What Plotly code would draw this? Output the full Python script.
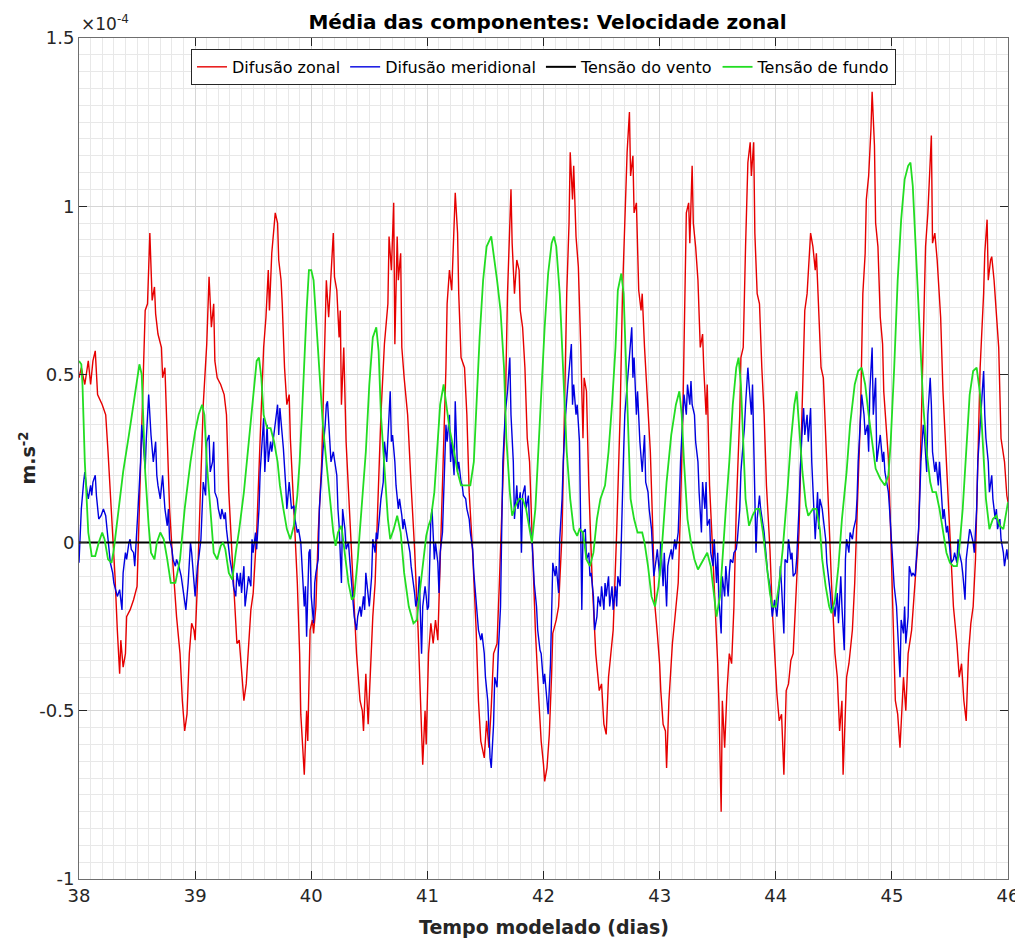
import plotly.graph_objects as go

# Values in units of 1e-4 m.s^-2 ; time in model days
difusao_zonal = [
    (38.00, 0.49), (38.02, 0.52), (38.05, 0.47), (38.08, 0.54), (38.10, 0.47), (38.12, 0.54), (38.14, 0.57),
    (38.16, 0.44), (38.20, 0.41), (38.23, 0.38), (38.25, 0.27), (38.28, 0.10), (38.31, -0.10), (38.33, -0.26),
    (38.35, -0.39), (38.36, -0.29), (38.38, -0.37), (38.40, -0.33), (38.41, -0.22), (38.44, -0.20), (38.47, -0.17),
    (38.50, -0.13), (38.51, -0.02), (38.53, 0.24), (38.55, 0.45), (38.57, 0.69), (38.59, 0.71), (38.61, 0.92),
    (38.63, 0.72), (38.65, 0.76), (38.66, 0.68), (38.68, 0.62), (38.71, 0.58), (38.72, 0.49), (38.74, 0.52),
    (38.76, 0.30), (38.78, 0.10), (38.81, -0.07), (38.84, -0.22), (38.87, -0.33), (38.89, -0.47), (38.91, -0.56),
    (38.93, -0.51), (38.95, -0.33), (38.97, -0.24), (38.99, -0.26), (39.00, -0.29), (39.02, -0.12), (39.05, 0.17),
    (39.07, 0.41), (39.10, 0.59), (39.12, 0.79), (39.14, 0.64), (39.16, 0.71), (39.17, 0.54), (39.19, 0.49),
    (39.22, 0.47), (39.25, 0.44), (39.27, 0.38), (39.29, 0.15), (39.32, -0.05), (39.34, -0.19), (39.36, -0.30),
    (39.38, -0.29), (39.40, -0.37), (39.42, -0.47), (39.44, -0.42), (39.46, -0.29), (39.48, -0.20), (39.50, -0.15),
    (39.53, 0.03), (39.56, 0.31), (39.59, 0.58), (39.61, 0.67), (39.63, 0.81), (39.64, 0.69), (39.66, 0.86),
    (39.68, 0.94), (39.69, 0.98), (39.71, 0.95), (39.72, 0.84), (39.74, 0.78), (39.75, 0.71), (39.77, 0.52),
    (39.79, 0.41), (39.81, 0.44), (39.82, 0.31), (39.85, 0.10), (39.88, -0.12), (39.90, -0.33), (39.91, -0.51),
    (39.94, -0.69), (39.96, -0.50), (39.97, -0.59), (39.99, -0.26), (40.01, -0.23), (40.02, -0.27), (40.04, -0.19),
    (40.06, 0.03), (40.09, 0.24), (40.11, 0.52), (40.13, 0.78), (40.15, 0.67), (40.17, 0.78), (40.19, 0.92),
    (40.20, 0.79), (40.22, 0.75), (40.24, 0.61), (40.25, 0.69), (40.26, 0.41), (40.28, 0.58), (40.30, 0.30),
    (40.33, 0.10), (40.36, -0.12), (40.39, -0.33), (40.42, -0.47), (40.44, -0.50), (40.45, -0.56), (40.47, -0.39),
    (40.49, -0.54), (40.51, -0.39), (40.53, -0.22), (40.55, -0.12), (40.57, 0.10), (40.60, 0.38), (40.63, 0.59),
    (40.66, 0.71), (40.67, 0.91), (40.69, 0.81), (40.71, 1.01), (40.72, 0.59), (40.74, 0.91), (40.75, 0.78),
    (40.77, 0.86), (40.78, 0.58), (40.80, 0.49), (40.83, 0.38), (40.86, 0.17), (40.89, -0.02), (40.92, -0.26),
    (40.94, -0.47), (40.96, -0.66), (40.98, -0.50), (40.99, -0.60), (41.01, -0.33), (41.03, -0.24), (41.05, -0.30),
    (41.07, -0.23), (41.09, -0.29), (41.11, -0.05), (41.14, 0.24), (41.16, 0.52), (41.17, 0.71), (41.19, 0.81),
    (41.21, 0.75), (41.22, 0.86), (41.24, 1.04), (41.26, 0.92), (41.27, 0.74), (41.29, 0.55), (41.32, 0.52),
    (41.34, 0.38), (41.36, 0.15), (41.39, -0.03), (41.42, -0.26), (41.44, -0.47), (41.46, -0.59), (41.49, -0.64),
    (41.51, -0.53), (41.53, -0.61), (41.55, -0.49), (41.57, -0.33), (41.60, -0.30), (41.62, -0.12), (41.65, 0.17),
    (41.67, 0.38), (41.69, 0.74), (41.71, 0.95), (41.72, 1.05), (41.73, 0.89), (41.75, 0.74), (41.77, 0.84),
    (41.79, 0.81), (41.80, 0.69), (41.82, 0.64), (41.84, 0.52), (41.86, 0.31), (41.88, 0.24), (41.90, 0.03),
    (41.93, -0.26), (41.96, -0.47), (41.98, -0.59), (42.00, -0.66), (42.01, -0.71), (42.03, -0.67), (42.05, -0.57),
    (42.07, -0.39), (42.08, -0.27), (42.11, -0.23), (42.13, -0.19), (42.16, 0.03), (42.18, 0.38), (42.20, 0.74),
    (42.22, 0.95), (42.23, 1.16), (42.25, 1.02), (42.26, 1.12), (42.28, 0.91), (42.30, 0.82), (42.32, 0.59),
    (42.34, 0.31), (42.35, 0.49), (42.37, 0.45), (42.39, 0.17), (42.42, -0.12), (42.45, -0.33), (42.48, -0.44),
    (42.50, -0.42), (42.52, -0.54), (42.54, -0.57), (42.56, -0.40), (42.58, -0.33), (42.60, -0.26), (42.63, 0.03),
    (42.66, 0.38), (42.68, 0.74), (42.70, 0.95), (42.72, 1.16), (42.74, 1.28), (42.75, 1.09), (42.77, 1.15),
    (42.78, 0.98), (42.80, 1.01), (42.82, 0.75), (42.84, 0.69), (42.85, 0.74), (42.87, 0.58), (42.89, 0.45),
    (42.92, 0.27), (42.94, 0.05), (42.96, -0.19), (42.98, -0.27), (43.00, -0.36), (43.01, -0.44), (43.03, -0.54),
    (43.05, -0.56), (43.06, -0.67), (43.08, -0.47), (43.11, -0.30), (43.13, -0.23), (43.16, -0.12), (43.18, 0.10),
    (43.20, 0.38), (43.22, 0.78), (43.23, 0.98), (43.25, 1.01), (43.26, 0.89), (43.28, 1.12), (43.29, 0.95),
    (43.31, 0.88), (43.33, 0.78), (43.35, 0.58), (43.37, 0.62), (43.38, 0.52), (43.40, 0.38), (43.41, 0.47),
    (43.43, 0.17), (43.46, -0.05), (43.48, -0.19), (43.50, -0.36), (43.51, -0.47), (43.53, -0.80), (43.54, -0.47),
    (43.56, -0.61), (43.58, -0.44), (43.60, -0.33), (43.62, -0.36), (43.64, -0.19), (43.66, 0.10), (43.69, 0.38),
    (43.70, 0.55), (43.72, 0.58), (43.74, 0.88), (43.76, 1.13), (43.78, 1.19), (43.79, 1.09), (43.81, 1.19),
    (43.82, 0.92), (43.84, 0.74), (43.86, 0.71), (43.88, 0.52), (43.90, 0.38), (43.92, 0.17), (43.95, -0.02),
    (43.97, -0.20), (43.99, -0.33), (44.01, -0.45), (44.03, -0.53), (44.05, -0.51), (44.07, -0.69), (44.09, -0.44),
    (44.11, -0.42), (44.13, -0.35), (44.15, -0.33), (44.17, -0.19), (44.20, 0.03), (44.22, 0.31), (44.24, 0.59),
    (44.25, 0.69), (44.27, 0.74), (44.29, 0.84), (44.30, 0.92), (44.32, 0.88), (44.34, 0.81), (44.35, 0.86),
    (44.37, 0.69), (44.39, 0.52), (44.41, 0.49), (44.43, 0.30), (44.46, 0.07), (44.48, -0.12), (44.51, -0.33),
    (44.53, -0.40), (44.55, -0.56), (44.57, -0.47), (44.58, -0.69), (44.59, -0.59), (44.61, -0.40), (44.63, -0.36),
    (44.66, -0.26), (44.68, -0.12), (44.70, 0.10), (44.73, 0.38), (44.75, 0.74), (44.77, 0.86), (44.78, 1.02),
    (44.80, 1.09), (44.82, 1.23), (44.83, 1.34), (44.85, 1.18), (44.86, 0.95), (44.88, 0.88), (44.90, 0.67),
    (44.92, 0.59), (44.93, 0.45), (44.95, 0.35), (44.97, 0.25), (44.99, 0.03), (45.01, -0.26), (45.03, -0.47),
    (45.05, -0.51), (45.07, -0.61), (45.09, -0.47), (45.10, -0.40), (45.12, -0.50), (45.14, -0.33), (45.17, -0.26),
    (45.20, -0.12), (45.23, 0.03), (45.25, 0.31), (45.27, 0.59), (45.29, 0.88), (45.31, 0.98), (45.33, 1.12),
    (45.34, 1.21), (45.35, 0.89), (45.37, 0.92), (45.39, 0.84), (45.40, 0.78), (45.42, 0.67), (45.44, 0.45),
    (45.46, 0.31), (45.48, 0.14), (45.51, -0.05), (45.53, -0.19), (45.56, -0.30), (45.58, -0.40), (45.60, -0.36),
    (45.62, -0.47), (45.64, -0.53), (45.66, -0.33), (45.68, -0.24), (45.70, -0.19), (45.72, -0.05), (45.74, 0.24),
    (45.76, 0.52), (45.79, 0.74), (45.80, 0.86), (45.82, 0.96), (45.83, 0.78), (45.85, 0.84), (45.86, 0.85),
    (45.88, 0.78), (45.90, 0.67), (45.92, 0.58), (45.94, 0.31), (45.97, 0.24), (45.99, 0.14), (46.00, 0.12),
]

difusao_meridional = [
    (38.00, -0.06), (38.01, 0.03), (38.02, 0.10), (38.04, 0.18), (38.05, 0.21), (38.07, 0.15), (38.08, 0.13),
    (38.10, 0.17), (38.11, 0.14), (38.12, 0.18), (38.14, 0.20), (38.15, 0.14), (38.17, 0.07), (38.19, 0.08),
    (38.21, 0.10), (38.23, 0.08), (38.25, 0.01), (38.27, -0.06), (38.29, -0.09), (38.30, -0.12), (38.33, -0.16),
    (38.35, -0.14), (38.37, -0.20), (38.38, -0.09), (38.40, -0.03), (38.41, -0.05), (38.43, 0.00), (38.44, 0.01),
    (38.45, -0.02), (38.47, -0.03), (38.48, -0.07), (38.50, 0.03), (38.51, 0.11), (38.53, 0.24), (38.54, 0.35),
    (38.55, 0.31), (38.57, 0.22), (38.58, 0.31), (38.60, 0.44), (38.62, 0.32), (38.64, 0.24), (38.66, 0.30),
    (38.67, 0.20), (38.68, 0.17), (38.70, 0.13), (38.72, 0.20), (38.74, 0.10), (38.76, 0.05), (38.77, 0.10),
    (38.78, 0.01), (38.80, -0.02), (38.81, -0.05), (38.83, -0.07), (38.84, -0.05), (38.86, -0.07), (38.88, -0.10),
    (38.90, -0.15), (38.92, -0.20), (38.94, -0.12), (38.96, 0.00), (38.97, -0.03), (38.99, -0.13), (39.00, -0.16),
    (39.02, -0.07), (39.03, -0.05), (39.05, 0.01), (39.06, 0.13), (39.07, 0.18), (39.09, 0.14), (39.10, 0.30),
    (39.12, 0.32), (39.13, 0.21), (39.15, 0.24), (39.16, 0.30), (39.17, 0.15), (39.19, 0.13), (39.20, 0.10),
    (39.22, 0.07), (39.23, 0.10), (39.25, 0.07), (39.26, 0.09), (39.27, 0.04), (39.29, -0.02), (39.30, -0.05),
    (39.32, -0.09), (39.33, -0.13), (39.35, -0.16), (39.36, -0.09), (39.38, -0.13), (39.39, -0.09), (39.40, -0.15),
    (39.42, -0.07), (39.43, -0.19), (39.45, -0.13), (39.46, -0.10), (39.48, -0.13), (39.49, 0.01), (39.50, -0.03),
    (39.52, 0.03), (39.53, -0.02), (39.55, 0.10), (39.56, 0.21), (39.58, 0.30), (39.59, 0.37), (39.60, 0.21),
    (39.62, 0.35), (39.63, 0.24), (39.65, 0.30), (39.66, 0.27), (39.68, 0.32), (39.69, 0.35), (39.71, 0.41),
    (39.72, 0.32), (39.73, 0.40), (39.75, 0.32), (39.76, 0.28), (39.78, 0.17), (39.79, 0.10), (39.81, 0.18),
    (39.82, 0.13), (39.83, 0.10), (39.85, 0.11), (39.86, 0.07), (39.88, 0.03), (39.89, 0.04), (39.91, 0.00),
    (39.92, -0.06), (39.94, -0.19), (39.95, -0.13), (39.96, -0.28), (39.98, -0.03), (39.99, -0.02), (40.00, -0.16),
    (40.02, -0.24), (40.03, -0.12), (40.04, -0.09), (40.06, -0.05), (40.07, 0.10), (40.09, 0.21), (40.10, 0.27),
    (40.12, 0.35), (40.13, 0.41), (40.14, 0.42), (40.16, 0.32), (40.17, 0.24), (40.19, 0.27), (40.20, 0.25),
    (40.22, 0.20), (40.23, 0.10), (40.24, 0.05), (40.26, -0.12), (40.27, 0.10), (40.29, 0.04), (40.30, -0.02),
    (40.32, 0.00), (40.33, -0.05), (40.35, -0.12), (40.36, -0.19), (40.37, -0.22), (40.39, -0.26), (40.40, -0.22),
    (40.42, -0.19), (40.43, -0.22), (40.45, -0.16), (40.46, -0.20), (40.47, -0.09), (40.49, -0.16), (40.50, -0.19),
    (40.52, -0.10), (40.53, 0.01), (40.55, -0.03), (40.56, 0.03), (40.57, 0.01), (40.59, 0.10), (40.60, 0.13),
    (40.62, 0.18), (40.63, 0.30), (40.65, 0.24), (40.66, 0.32), (40.68, 0.45), (40.69, 0.30), (40.70, 0.32),
    (40.72, 0.24), (40.73, 0.17), (40.75, 0.10), (40.76, 0.13), (40.78, 0.08), (40.79, 0.04), (40.80, 0.07),
    (40.82, 0.03), (40.83, 0.01), (40.85, -0.03), (40.86, -0.07), (40.88, -0.12), (40.89, -0.15), (40.90, -0.19),
    (40.92, -0.16), (40.93, -0.10), (40.95, -0.33), (40.96, -0.19), (40.98, -0.13), (40.99, -0.16), (41.00, -0.20),
    (41.01, -0.19), (41.03, 0.07), (41.04, 0.10), (41.06, -0.05), (41.07, 0.00), (41.09, -0.06), (41.10, -0.15),
    (41.11, -0.03), (41.13, 0.03), (41.14, 0.14), (41.16, 0.35), (41.17, 0.30), (41.19, 0.38), (41.20, 0.24),
    (41.21, 0.30), (41.23, 0.20), (41.24, 0.42), (41.26, 0.21), (41.27, 0.24), (41.29, 0.18), (41.30, 0.17),
    (41.31, 0.14), (41.33, 0.13), (41.34, 0.10), (41.36, 0.07), (41.37, 0.03), (41.39, -0.02), (41.40, -0.09),
    (41.42, -0.17), (41.43, -0.22), (41.44, -0.26), (41.46, -0.29), (41.47, -0.27), (41.49, -0.33), (41.50, -0.40),
    (41.52, -0.47), (41.53, -0.59), (41.54, -0.64), (41.55, -0.67), (41.57, -0.54), (41.58, -0.40), (41.60, -0.43),
    (41.61, -0.33), (41.63, -0.19), (41.64, 0.03), (41.65, 0.24), (41.67, 0.38), (41.68, 0.41), (41.69, 0.45),
    (41.71, 0.55), (41.72, 0.38), (41.74, 0.24), (41.75, 0.07), (41.77, 0.17), (41.78, 0.10), (41.80, 0.15),
    (41.81, -0.03), (41.82, 0.14), (41.84, 0.17), (41.85, 0.10), (41.87, 0.14), (41.88, 0.05), (41.90, 0.01),
    (41.91, -0.05), (41.92, -0.12), (41.94, -0.19), (41.95, -0.26), (41.97, -0.32), (41.98, -0.33), (42.00, -0.42),
    (42.01, -0.39), (42.03, -0.47), (42.04, -0.51), (42.06, -0.36), (42.07, -0.19), (42.08, -0.06), (42.10, -0.10),
    (42.11, -0.07), (42.13, -0.15), (42.14, 0.01), (42.16, 0.13), (42.17, 0.24), (42.19, 0.38), (42.20, 0.44),
    (42.21, 0.47), (42.23, 0.55), (42.24, 0.59), (42.25, 0.41), (42.26, 0.47), (42.28, 0.38), (42.29, 0.41),
    (42.31, 0.30), (42.32, -0.05), (42.33, -0.20), (42.34, 0.03), (42.36, 0.04), (42.37, -0.05), (42.39, -0.03),
    (42.40, -0.10), (42.41, -0.09), (42.43, -0.16), (42.44, -0.26), (42.46, -0.22), (42.47, -0.16), (42.49, -0.19),
    (42.50, -0.13), (42.52, -0.20), (42.53, -0.12), (42.54, -0.16), (42.56, -0.10), (42.57, -0.19), (42.59, -0.13),
    (42.60, -0.20), (42.62, -0.13), (42.63, -0.19), (42.64, -0.10), (42.66, -0.13), (42.67, 0.03), (42.69, 0.27),
    (42.70, 0.38), (42.72, 0.47), (42.73, 0.49), (42.75, 0.58), (42.76, 0.64), (42.77, 0.49), (42.78, 0.55),
    (42.80, 0.38), (42.81, 0.45), (42.83, 0.30), (42.84, 0.24), (42.85, 0.21), (42.87, 0.32), (42.88, 0.18),
    (42.90, 0.15), (42.91, 0.10), (42.93, 0.04), (42.94, -0.02), (42.95, -0.10), (42.97, -0.05), (42.98, -0.02),
    (43.00, -0.10), (43.01, 0.00), (43.03, -0.13), (43.04, -0.03), (43.06, -0.19), (43.07, -0.07), (43.08, -0.05),
    (43.10, -0.02), (43.11, -0.05), (43.13, 0.01), (43.14, -0.02), (43.16, 0.03), (43.17, 0.13), (43.18, 0.24),
    (43.20, 0.38), (43.21, 0.44), (43.23, 0.38), (43.24, 0.47), (43.26, 0.41), (43.27, 0.48), (43.28, 0.41),
    (43.30, 0.38), (43.31, 0.30), (43.33, 0.24), (43.34, 0.15), (43.36, 0.03), (43.37, 0.18), (43.39, 0.10),
    (43.40, 0.18), (43.41, 0.05), (43.43, 0.07), (43.44, -0.03), (43.46, -0.07), (43.47, 0.01), (43.49, -0.12),
    (43.50, -0.03), (43.51, -0.16), (43.53, -0.27), (43.54, -0.10), (43.56, -0.16), (43.57, -0.07), (43.59, -0.16),
    (43.60, -0.09), (43.61, -0.05), (43.63, -0.06), (43.64, -0.03), (43.66, -0.02), (43.67, 0.01), (43.69, 0.10),
    (43.70, 0.21), (43.72, 0.30), (43.73, 0.34), (43.74, 0.41), (43.76, 0.52), (43.77, 0.47), (43.79, 0.38),
    (43.80, 0.47), (43.82, 0.13), (43.83, -0.03), (43.84, 0.07), (43.86, 0.14), (43.87, 0.10), (43.89, 0.05),
    (43.90, 0.03), (43.92, -0.05), (43.93, -0.09), (43.95, -0.13), (43.96, -0.19), (43.97, -0.22), (43.99, -0.17),
    (44.00, -0.20), (44.01, -0.22), (44.03, -0.13), (44.04, -0.07), (44.05, -0.13), (44.07, -0.27), (44.08, -0.05),
    (44.10, -0.06), (44.11, 0.01), (44.13, -0.05), (44.14, -0.03), (44.15, -0.10), (44.17, -0.09), (44.18, -0.05),
    (44.20, 0.10), (44.21, 0.21), (44.23, 0.35), (44.24, 0.40), (44.25, 0.32), (44.27, 0.38), (44.28, 0.30),
    (44.30, 0.40), (44.31, 0.24), (44.33, 0.10), (44.34, 0.01), (44.36, 0.15), (44.37, 0.04), (44.38, 0.13),
    (44.40, 0.10), (44.41, 0.07), (44.43, 0.01), (44.44, -0.06), (44.46, -0.12), (44.47, -0.15), (44.48, -0.20),
    (44.50, -0.19), (44.51, -0.22), (44.53, -0.15), (44.54, -0.24), (44.56, -0.10), (44.57, -0.19), (44.59, -0.32),
    (44.60, -0.05), (44.61, 0.01), (44.63, -0.03), (44.64, 0.03), (44.66, 0.01), (44.67, 0.04), (44.69, 0.07),
    (44.70, 0.13), (44.71, 0.24), (44.73, 0.35), (44.74, 0.44), (44.76, 0.38), (44.77, 0.32), (44.79, 0.35),
    (44.80, 0.27), (44.81, 0.45), (44.83, 0.58), (44.84, 0.38), (44.86, 0.49), (44.87, 0.24), (44.89, 0.30),
    (44.90, 0.32), (44.92, 0.24), (44.93, 0.27), (44.94, 0.21), (44.96, 0.17), (44.97, 0.15), (44.98, 0.10),
    (45.00, -0.02), (45.01, -0.10), (45.02, -0.13), (45.04, -0.19), (45.05, -0.26), (45.07, -0.40), (45.08, -0.23),
    (45.10, -0.27), (45.11, -0.19), (45.12, -0.30), (45.14, -0.22), (45.15, -0.07), (45.17, -0.10), (45.18, -0.09),
    (45.20, -0.10), (45.21, -0.05), (45.23, 0.04), (45.24, 0.13), (45.25, 0.24), (45.27, 0.35), (45.28, 0.32),
    (45.30, 0.21), (45.31, 0.38), (45.33, 0.49), (45.34, 0.41), (45.35, 0.27), (45.37, 0.21), (45.38, 0.24),
    (45.40, 0.17), (45.41, 0.24), (45.43, 0.13), (45.44, 0.07), (45.45, 0.10), (45.47, 0.03), (45.48, 0.05),
    (45.50, -0.03), (45.51, -0.06), (45.53, -0.05), (45.54, -0.03), (45.56, -0.06), (45.57, 0.01), (45.58, -0.03),
    (45.60, -0.06), (45.61, -0.09), (45.63, -0.17), (45.64, -0.05), (45.66, 0.01), (45.67, 0.04), (45.68, 0.03),
    (45.70, 0.00), (45.71, -0.03), (45.73, 0.10), (45.74, 0.24), (45.76, 0.35), (45.77, 0.41), (45.79, 0.51),
    (45.80, 0.38), (45.81, 0.31), (45.83, 0.24), (45.84, 0.15), (45.86, 0.20), (45.87, 0.13), (45.89, 0.07),
    (45.90, 0.10), (45.91, 0.04), (45.93, 0.07), (45.94, 0.01), (45.96, -0.03), (45.97, -0.07), (45.99, -0.02),
    (46.00, -0.05),
]

tensao_vento = [(38.0, 0.0), (39.0, 0.0), (40.0, 0.0), (41.0, 0.0), (42.0, 0.0),
                (43.0, 0.0), (44.0, 0.0), (45.0, 0.0), (46.0, 0.0)]

tensao_fundo = [
    (38.00, 0.54), (38.02, 0.53), (38.03, 0.47), (38.05, 0.24), (38.08, 0.03), (38.11, -0.04), (38.14, -0.04),
    (38.17, 0.00), (38.20, 0.03), (38.22, 0.01), (38.25, -0.05), (38.28, -0.06), (38.30, -0.02), (38.34, 0.10),
    (38.38, 0.21), (38.43, 0.32), (38.47, 0.41), (38.50, 0.49), (38.52, 0.53), (38.54, 0.50), (38.55, 0.38),
    (38.57, 0.21), (38.60, 0.05), (38.62, -0.03), (38.65, -0.05), (38.67, 0.00), (38.70, 0.03), (38.73, 0.01),
    (38.76, -0.05), (38.79, -0.12), (38.83, -0.12), (38.87, -0.05), (38.91, 0.10), (38.96, 0.24), (39.00, 0.33),
    (39.03, 0.38), (39.06, 0.41), (39.08, 0.38), (39.10, 0.24), (39.13, 0.10), (39.16, -0.03), (39.19, -0.05),
    (39.22, -0.01), (39.24, 0.00), (39.26, -0.02), (39.29, -0.09), (39.32, -0.11), (39.35, -0.03), (39.38, 0.04),
    (39.42, 0.15), (39.46, 0.30), (39.50, 0.44), (39.53, 0.54), (39.55, 0.55), (39.57, 0.49), (39.59, 0.38),
    (39.62, 0.34), (39.65, 0.34), (39.68, 0.30), (39.71, 0.24), (39.73, 0.17), (39.76, 0.10), (39.79, 0.04),
    (39.82, 0.01), (39.85, 0.05), (39.88, 0.14), (39.90, 0.24), (39.92, 0.38), (39.94, 0.55), (39.96, 0.69),
    (39.98, 0.81), (40.00, 0.81), (40.02, 0.78), (40.04, 0.67), (40.07, 0.49), (40.10, 0.35), (40.13, 0.24),
    (40.16, 0.13), (40.19, 0.03), (40.21, -0.01), (40.23, 0.03), (40.26, 0.05), (40.29, -0.03), (40.32, -0.12),
    (40.35, -0.17), (40.37, -0.16), (40.40, -0.05), (40.43, 0.10), (40.47, 0.27), (40.50, 0.47), (40.53, 0.61),
    (40.56, 0.64), (40.58, 0.57), (40.60, 0.38), (40.63, 0.21), (40.66, 0.07), (40.68, 0.01), (40.71, 0.04),
    (40.74, 0.08), (40.77, 0.03), (40.80, -0.09), (40.84, -0.19), (40.88, -0.24), (40.91, -0.23), (40.93, -0.16),
    (40.96, -0.06), (40.99, 0.02), (41.01, 0.05), (41.03, 0.07), (41.06, 0.15), (41.09, 0.30), (41.11, 0.41),
    (41.14, 0.47), (41.17, 0.40), (41.19, 0.34), (41.23, 0.27), (41.26, 0.21), (41.29, 0.17), (41.33, 0.17),
    (41.37, 0.17), (41.40, 0.24), (41.42, 0.41), (41.45, 0.61), (41.48, 0.78), (41.51, 0.88), (41.55, 0.91),
    (41.57, 0.86), (41.60, 0.78), (41.63, 0.69), (41.66, 0.52), (41.68, 0.31), (41.71, 0.15), (41.73, 0.08),
    (41.76, 0.11), (41.79, 0.13), (41.82, 0.13), (41.85, 0.10), (41.88, 0.04), (41.90, 0.00), (41.93, 0.10),
    (41.96, 0.30), (41.98, 0.45), (42.01, 0.64), (42.04, 0.80), (42.07, 0.89), (42.09, 0.91), (42.11, 0.88),
    (42.14, 0.74), (42.16, 0.58), (42.18, 0.41), (42.20, 0.27), (42.23, 0.13), (42.26, 0.04), (42.29, 0.02),
    (42.31, 0.04), (42.34, 0.03), (42.37, -0.05), (42.40, -0.07), (42.43, -0.03), (42.46, 0.07), (42.49, 0.13),
    (42.53, 0.17), (42.56, 0.27), (42.59, 0.41), (42.62, 0.58), (42.64, 0.75), (42.67, 0.80), (42.69, 0.74),
    (42.71, 0.52), (42.73, 0.31), (42.75, 0.13), (42.78, 0.07), (42.81, 0.03), (42.85, 0.03), (42.87, 0.00),
    (42.90, -0.07), (42.93, -0.16), (42.96, -0.19), (42.99, -0.13), (43.01, -0.06), (43.03, 0.05), (43.06, 0.18),
    (43.10, 0.32), (43.14, 0.41), (43.17, 0.45), (43.19, 0.38), (43.21, 0.24), (43.24, 0.07), (43.27, 0.00),
    (43.30, -0.05), (43.33, -0.08), (43.36, -0.06), (43.39, -0.04), (43.41, -0.03), (43.44, -0.07), (43.47, -0.16),
    (43.49, -0.22), (43.52, -0.16), (43.54, -0.05), (43.57, 0.10), (43.60, 0.24), (43.63, 0.41), (43.66, 0.52),
    (43.68, 0.55), (43.70, 0.47), (43.72, 0.31), (43.74, 0.13), (43.77, 0.05), (43.80, 0.08), (43.83, 0.10),
    (43.86, 0.10), (43.89, 0.03), (43.92, -0.06), (43.95, -0.15), (43.97, -0.19), (44.00, -0.19), (44.03, -0.12),
    (44.06, -0.02), (44.10, 0.15), (44.13, 0.30), (44.16, 0.41), (44.18, 0.45), (44.20, 0.35), (44.23, 0.21),
    (44.26, 0.11), (44.28, 0.08), (44.32, 0.10), (44.35, 0.10), (44.38, 0.04), (44.40, -0.05), (44.43, -0.13),
    (44.46, -0.19), (44.48, -0.21), (44.51, -0.17), (44.54, -0.07), (44.57, 0.07), (44.61, 0.21), (44.64, 0.35),
    (44.68, 0.47), (44.71, 0.51), (44.74, 0.52), (44.77, 0.47), (44.80, 0.38), (44.83, 0.30), (44.86, 0.22),
    (44.90, 0.19), (44.94, 0.17), (44.97, 0.20), (44.99, 0.30), (45.02, 0.52), (45.05, 0.78), (45.08, 0.96),
    (45.11, 1.08), (45.14, 1.12), (45.16, 1.13), (45.18, 1.06), (45.21, 0.84), (45.24, 0.61), (45.27, 0.41),
    (45.30, 0.27), (45.33, 0.18), (45.35, 0.15), (45.38, 0.15), (45.41, 0.10), (45.44, 0.03), (45.47, -0.03),
    (45.50, -0.06), (45.53, -0.07), (45.56, -0.07), (45.58, -0.02), (45.61, 0.10), (45.64, 0.27), (45.67, 0.44),
    (45.70, 0.51), (45.73, 0.52), (45.76, 0.44), (45.79, 0.27), (45.81, 0.13), (45.84, 0.04), (45.87, 0.07),
    (45.90, 0.08), (45.93, 0.05), (45.96, 0.04), (45.99, 0.10), (46.00, 0.12),
]

series_names = ["Difusão zonal", "Difusão meridional", "Tensão do vento", "Tensão de fundo"]
x_ticks = [38, 39, 40, 41, 42, 43, 44, 45, 46]
y_ticks = [-1, -0.5, 0, 0.5, 1, 1.5]
y_ticktext = ["-1", "-0.5", "0", "0.5", "1", "1.5"]

FONT = "DejaVu Sans, sans-serif"
styles = [
    dict(color="#e60000", width=1.4),
    dict(color="#0000e0", width=1.4),
    dict(color="#000000", width=2.0),
    dict(color="#22dd22", width=1.8),
]

fig = go.Figure()
for name, data, st in zip(series_names,
                          [difusao_zonal, difusao_meridional, tensao_vento, tensao_fundo],
                          styles):
    t, v = zip(*data)
    fig.add_trace(go.Scatter(x=list(t), y=list(v), mode="lines", name=name, line=st))

axis_common = dict(
    showline=True, linecolor="#6e6e6e", linewidth=1, mirror="ticks",
    ticks="inside", ticklen=8, tickcolor="#262626",
    showgrid=True, gridcolor="#d6d6d6", gridwidth=1, zeroline=False,
    tickfont=dict(family=FONT, size=18, color="#262626"),
    automargin=False,
)

fig.update_xaxes(range=[38, 46], tickvals=x_ticks,
                 minor=dict(dtick=0.1, showgrid=True, gridcolor="#e8e8e8", ticks=""),
                 **axis_common)
fig.update_yaxes(range=[-1, 1.5], tickvals=y_ticks, ticktext=y_ticktext,
                 minor=dict(dtick=0.05, showgrid=True, gridcolor="#e8e8e8", ticks=""),
                 **axis_common)

# The page body adds an 8 px offset, so the figure is 8 px smaller and margins shifted
fig.update_layout(
    width=1015, height=932,
    margin=dict(l=71, r=15, t=30, b=61, autoexpand=False),
    plot_bgcolor="white", paper_bgcolor="white",
    font=dict(family=FONT, color="#262626"),
    title=dict(text="<b>Média das componentes: Velocidade zonal</b>",
               x=0.5315, xanchor="center", y=0.985, yanchor="middle",
               font=dict(family=FONT, size=20, color="#000000")),
    legend=dict(orientation="h", x=0.5, xanchor="center", y=0.987, yanchor="top",
                bgcolor="white", bordercolor="#262626", borderwidth=1,
                font=dict(family=FONT, size=16, color="#000000"),
                itemwidth=30, tracegroupgap=0),
    showlegend=True,
    annotations=[
        dict(text="×10<sup>-4</sup>", xref="paper", yref="paper", x=0, y=1,
             xanchor="left", yanchor="bottom", showarrow=False, yshift=2,
             font=dict(family=FONT, size=17, color="#262626")),
        dict(text="<b>m.s<sup>-2</sup></b>", xref="paper", yref="paper", x=0, y=0.5,
             xanchor="center", yanchor="middle", xshift=-52, textangle=-90, showarrow=False,
             font=dict(family=FONT, size=19, color="#262626")),
        dict(text="<b>Tempo modelado (dias)</b>", xref="paper", yref="paper", x=0.5, y=0,
             xanchor="center", yanchor="middle", yshift=-48, showarrow=False,
             font=dict(family=FONT, size=19, color="#262626")),
    ],
)

fig.write_html("out.html")
